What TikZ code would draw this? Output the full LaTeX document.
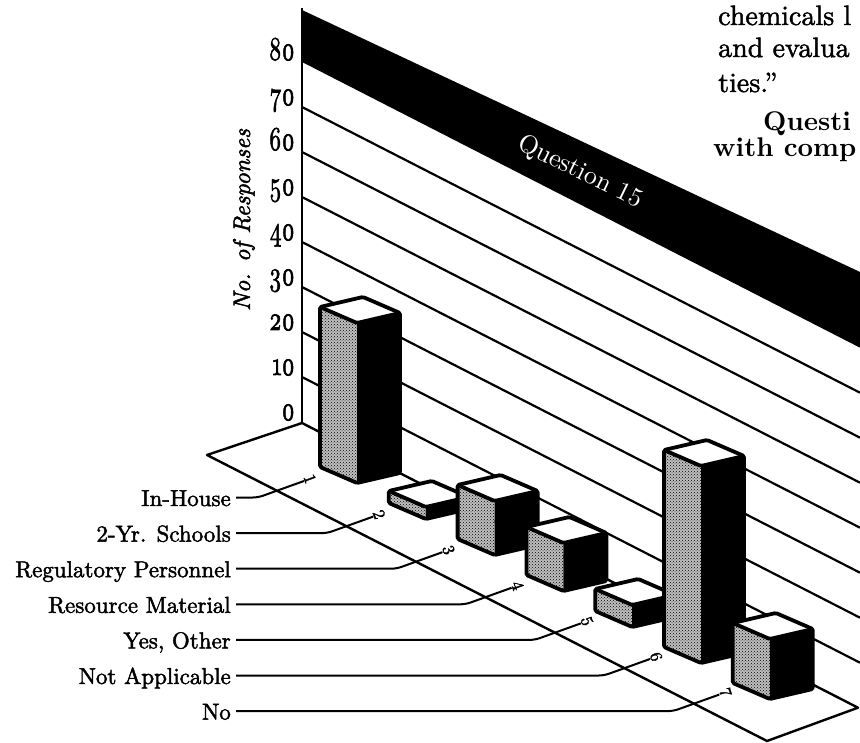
\documentclass[tikz,border=0pt]{standalone}
\usepackage{fontspec}
\newfontfamily\labfont{lmroman10-regular.otf}[FakeBold=2]
\newfontfamily\numfont{lmroman10-regular.otf}[FakeBold=2,Numbers=OldStyle]
\newfontfamily\itfont{lmroman10-italic.otf}[FakeBold=2]
\newfontfamily\bodyfont{lmroman10-regular.otf}[FakeBold=1.6]
\newfontfamily\bodybold{lmroman10-bold.otf}
\newfontfamily\titlefont{lmroman10-regular.otf}
\usetikzlibrary{patterns,calc}
\begin{document}
\begin{tikzpicture}[x=1pt,y=-1pt,
  gridline/.style={line width=2.2pt},
  flooredge/.style={line width=2.4pt, line join=round},
  lab/.style={font=\labfont\fontsize{23}{25}\selectfont, anchor=east, inner sep=0pt, text height=17pt, text depth=0pt},
  ticklab/.style={font=\numfont\fontsize{23}{25}\selectfont, anchor=base east, inner sep=0pt},
  leader/.style={line width=2pt, rounded corners=5pt, shorten <=5pt},
  floornum/.style={font=\labfont\fontsize{17}{18}\selectfont, inner sep=0.5pt, rotate=-70, anchor=south},
  frontface/.style={fill=gray!50, postaction={pattern=crosshatch dots, pattern color=black}},
  sideface/.style={fill=black},
  topface/.style={fill=white},
  baredge/.style={line width=3.8pt, line join=round, rounded corners=1.5pt},
  bodytext/.style={font=\bodyfont\fontsize{28}{34}\selectfont, anchor=base west, inner sep=0pt},
]
\useasboundingbox (0,0) rectangle (860,743);

% black title band
\fill (302,10) -- (860,272) -- (860,347.7) -- (302,62) -- cycle;
\node[text=white, font=\titlefont\fontsize{26}{28}\selectfont, rotate=-26] (title) at (580,172) {Question 15};

% grid lines on the back wall
\foreach \k in {1,...,7}{
  \draw[gridline] (302,{422-45*\k}) -- (860,{422-45*\k+285.7});
}
% vertical axis
\draw[line width=1.6pt] (302,8) -- (302,423);

% tick labels
\foreach \v [count=\k from 0] in {0,10,20,30,40,50,60,70,80}{
  \node[ticklab] (tk\k) at (295,{420-45*\k}) {\scalebox{1}[1.45]{\v}};
}
\node[font=\itfont\fontsize{24}{26}\selectfont, rotate=90] (ylab) at (244,220) {No. of Responses};

% floor
\draw[flooredge] (858,707.7) -- (302,423) -- (207,455) -- (767,741) -- cycle;

% category labels with leaders and floor numerals
\foreach \i/\t in {1/In-House,2/2-Yr. Schools,3/Regulatory Personnel,4/Resource Material,5/{Yes, Other},6/Not Applicable,7/No}{
  \node[lab] (L\i) at (231,{497.5+35.6*(\i-1)}) {\t};
  \coordinate (c\i) at ({258+69.2*(\i-1)},{497.5+35.6*(\i-1)});
  \node[floornum] (n\i) at ($(c\i)+(46,-16.5)$) {\i};
  \draw[leader] (L\i.east) -- (c\i) -- (n\i.south);
}

% bars
\foreach \i/\h in {1/160,2/12,3/54,4/48,5/22,6/197,7/60}{
  \coordinate (p\i) at ({357+68.8*(\i-1)},{483+36*(\i-1)});
  \coordinate (l\i) at ($(p\i)+(-37,-16)$);
  \coordinate (r\i) at ($(p\i)+(43,-10)$);
  \coordinate (pt\i) at ($(p\i)+(0,-\h)$);
  \coordinate (lt\i) at ($(l\i)+(0,-\h)$);
  \coordinate (rt\i) at ($(r\i)+(0,-\h)$);
  \coordinate (bt\i) at ($(lt\i)+(43,-10)$);
  \fill[frontface] (l\i) -- (p\i) -- (pt\i) -- (lt\i) -- cycle;
  \fill[sideface] (p\i) -- (r\i) -- (rt\i) -- (pt\i) -- cycle;
  \fill[topface] (lt\i) -- (pt\i) -- (rt\i) -- (bt\i) -- cycle;
  \draw[baredge] (l\i) -- (p\i) -- (r\i) -- (rt\i) -- (bt\i) -- (lt\i) -- cycle;
  \draw[baredge] (lt\i) -- (pt\i) -- (rt\i);
}

% body text fragments
\node[bodytext] (b1) at (718,25) {chemicals l};
\node[bodytext] (b2) at (718,57) {and evalua};
\node[bodytext] (b3) at (718,92) {ties.”};
\node[bodytext, font=\bodybold\fontsize{27}{34}\selectfont] (b4) at (763,131) {Questi};
\node[bodytext, font=\bodybold\fontsize{27}{34}\selectfont] (b5) at (713,157) {with comp};
\end{tikzpicture}
\end{document}
